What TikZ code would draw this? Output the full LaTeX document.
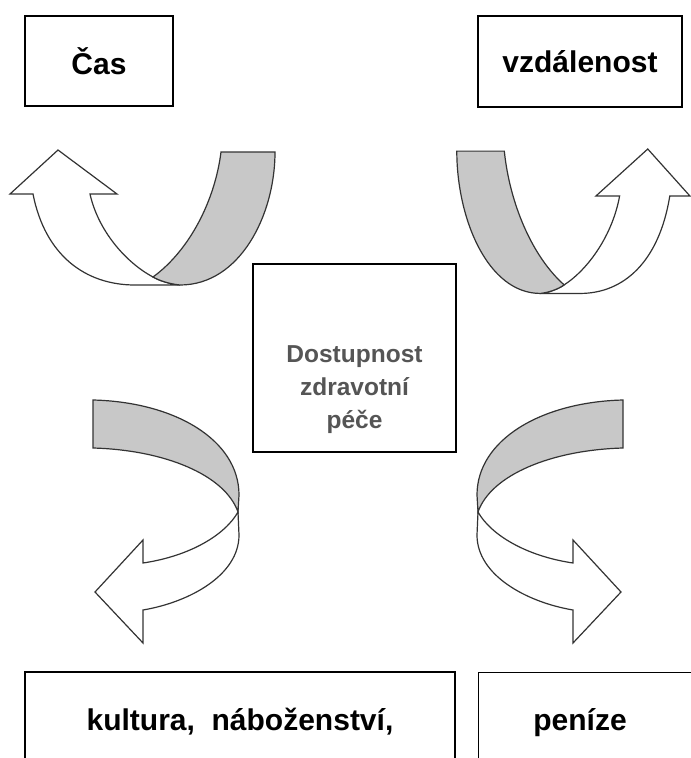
\documentclass[tikz,border=0pt]{standalone}
\usepackage{fontspec}
\setmainfont{Liberation Sans}
\usepackage{tikz}
\usepackage{xcolor}
\usetikzlibrary{positioning,calc}
\definecolor{ribbon-grey}{RGB}{200,200,200}
\definecolor{core-grey}{RGB}{85,85,85}
\tikzset{
    factor-box/.style={
        rectangle,
        draw=black,
        line width=1.4pt,
        inner sep=0pt,
        font=\fontsize{30}{36}\selectfont\bfseries
    },
    factor-text/.style={
        inner sep=0pt,
        font=\fontsize{30}{36}\selectfont\bfseries
    },
    core-text/.style={
        align=center,
        inner sep=0pt,
        text=core-grey,
        font=\fontsize{24.5}{33}\selectfont\bfseries
    },
    ribbon-front/.style={
        draw=black!80,
        fill=white,
        line width=1.2pt
    },
    ribbon-back/.style={
        draw=black!80,
        fill=ribbon-grey,
        line width=1.2pt
    },
    u-turn/.pic={
        \draw[ribbon-front] (153,277) .. controls (125,262) and (98,230) .. (90,194)
            -- (117,194) -- (58,150) -- (10,194) -- (33,194)
            .. controls (45,255) and (85,285) .. (135,285) -- (180,285)
            .. controls (170,284) and (160,281) .. (153,277) -- cycle;
        \draw[ribbon-back] (221,152) -- (275,152)
            .. controls (275,215) and (240,285) .. (180,285)
            .. controls (170,284) and (160,281) .. (153,277)
            .. controls (190,250) and (215,200) .. (221,152) -- cycle;
    },
    twist/.pic={
        \draw[ribbon-front] (238,512) .. controls (225,535) and (190,556) .. (143,563)
            -- (143,540) -- (95,592) -- (143,643) -- (143,610)
            .. controls (190,602) and (239,575) .. (239,535) -- cycle;
        \draw[ribbon-back] (93,400) -- (93,448)
            .. controls (165,450) and (225,475) .. (238,512) -- (239,495)
            .. controls (239,440) and (175,402) .. (93,400) -- cycle;
    },
}

\begin{document}
\begin{tikzpicture}[x=1pt,y=-1pt]
    \useasboundingbox (0,0) rectangle (691,758);
    \clip (0,0) rectangle (691,758);

    % factors
    \node[factor-box, minimum width=148, minimum height=90] (cas) at (99,61) {Čas};
    \node[factor-box, minimum width=204, minimum height=91] (vzdalenost) at (580,61.5) {vzdálenost};
    \node[factor-box, minimum width=430, minimum height=100] (kultura) at (240,722) {kultura,\ \ náboženství,};
    \node[factor-box, minimum width=240, minimum height=100, anchor=north west] (penize) at (478,672) {};
    \node[factor-text] (penize-text) at (580,723) {peníze};

    % access in the middle
    \node[factor-box, minimum width=203, minimum height=188] (dostupnost) at (354.5,358) {};
    \node[core-text] (dostupnost-text) at (354.5,390) {Dostupnost\\zdravotní\\péče};

    % ribbons
    \pic at (0,0) {u-turn};
    \pic[xscale=-0.88, yscale=1.07] at (698.8,-11.5) {u-turn};
    \pic at (0,0) {twist};
    \pic[xscale=-1] at (716,0) {twist};
\end{tikzpicture}
\end{document}
